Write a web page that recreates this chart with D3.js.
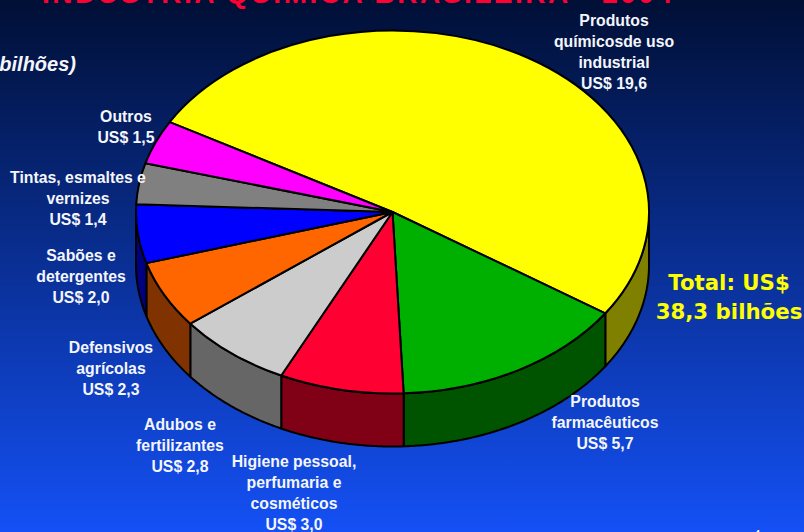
<!DOCTYPE html>
<html>
<head>
<meta charset="utf-8">
<script src="https://cdn.jsdelivr.net/npm/d3@7"></script>
<style>
html, body { margin: 0; padding: 0; background: #000f35; overflow: hidden; }
svg { display: block; }
.label { font-family: "Liberation Sans", Arial, sans-serif; font-weight: bold; font-size: 15.8px; fill: #f4f6fc; text-anchor: middle; }
</style>
</head>
<body>
<div id="chart"></div>
<script>
var categories = [
    "Produtos químicos de uso industrial", "Produtos farmacêuticos", "Higiene pessoal, perfumaria e cosméticos",
    "Adubos e fertilizantes", "Defensivos agrícolas", "Sabões e detergentes", "Tintas, esmaltes e vernizes", "Outros"
];
var values = [19.6, 5.7, 3.0, 2.8, 2.3, 2.0, 1.4, 1.5];
var topColors = ["#ffff00", "#00b000", "#ff0033", "#cccccc", "#ff6600", "#0000ff", "#808080", "#ff00ff"];
var sideColors = ["#808000", "#005400", "#800015", "#666666", "#803300", "#000080", "#404040", "#800080"];

var labelLines = [
    ["Produtos", "químicosde uso", "industrial", "US$ 19,6"],
    ["Produtos", "farmacêuticos", "US$ 5,7"],
    ["Higiene pessoal,", "perfumaria e", "cosméticos", "US$ 3,0"],
    ["Adubos e", "fertilizantes", "US$ 2,8"],
    ["Defensivos", "agrícolas", "US$ 2,3"],
    ["Sabões e", "detergentes", "US$ 2,0"],
    ["Tintas, esmaltes e", "vernizes", "US$ 1,4"],
    ["Outros", "US$ 1,5"]
];
// label anchor: centre x, first baseline
var labelPlace = [[614, 26], [605, 407], [294, 467], [180, 430], [111, 353], [81, 261], [78, 183], [126, 122]];

var width = 804, height = 532;
var cx = 392.5, cy = 212, rx = 256.5, ry = 181.5, depth = 53;
var startAngle = -60.3 * Math.PI / 180;

var svg = d3.select("#chart").append("svg")
    .attr("width", width)
    .attr("height", height);

var grad = svg.append("defs").append("linearGradient")
    .attr("id", "bg")
    .attr("x1", 0).attr("y1", 0).attr("x2", 0).attr("y2", 1);
grad.append("stop").attr("offset", "0%").attr("stop-color", "#000f35");
grad.append("stop").attr("offset", "100%").attr("stop-color", "#1450f5");

svg.append("rect")
    .attr("width", width)
    .attr("height", height)
    .attr("fill", "url(#bg)");

// title runs off the top of the slide
svg.append("text")
    .attr("x", 357)
    .attr("y", 2.5)
    .attr("text-anchor", "middle")
    .attr("font-family", "Liberation Sans, Arial, sans-serif")
    .attr("font-weight", "bold")
    .attr("font-size", 28)
    .attr("textLength", 630)
    .attr("fill", "#ff0033")
    .text("INDÚSTRIA QUÍMICA BRASILEIRA - 2004");

svg.append("text")
    .attr("x", 76)
    .attr("y", 71)
    .attr("text-anchor", "end")
    .attr("font-family", "Liberation Sans, Arial, sans-serif")
    .attr("font-weight", "bold")
    .attr("font-style", "italic")
    .attr("font-size", 20)
    .attr("fill", "#f4f6fc")
    .text("(em US$ bilhões)");

var pie = d3.pie().sort(null).startAngle(startAngle).endAngle(startAngle + 2 * Math.PI);
var slices = pie(values);

// walls: only the part of each slice facing the viewer
function wallPath(d) {
    var a0 = Math.max(d.startAngle, Math.PI / 2),
        a1 = Math.min(d.endAngle, 3 * Math.PI / 2);
    if (a1 <= a0) return null;
    var angles = d3.range(a0, a1, 0.01).concat([a1]);
    var rim = angles.map(function(a) {
        return [cx + rx * Math.sin(a), cy - ry * Math.cos(a)];
    });
    var lower = rim.map(function(p) { return [p[0], p[1] + depth]; }).reverse();
    return d3.line()(rim.concat(lower)) + "Z";
}

svg.append("g").selectAll("path")
    .data(slices)
    .enter().append("path")
    .attr("d", wallPath)
    .attr("fill", function(d, i) { return sideColors[i]; })
    .attr("stroke", "#000")
    .attr("stroke-width", 2)
    .attr("stroke-linejoin", "round");

var arc = d3.arc().innerRadius(0).outerRadius(rx);

svg.append("g")
    .attr("transform", "translate(" + cx + "," + cy + ") scale(1," + (ry / rx) + ")")
    .selectAll("path")
    .data(slices)
    .enter().append("path")
    .attr("d", arc)
    .attr("fill", function(d, i) { return topColors[i]; })
    .attr("stroke", "#000")
    .attr("stroke-width", 2)
    .attr("stroke-linejoin", "round")
    .attr("vector-effect", "non-scaling-stroke")
    .append("title")
    .text(function(d, i) { return categories[i]; });

var labels = svg.append("g").selectAll("text")
    .data(labelLines)
    .enter().append("text")
    .attr("class", "label")
    .attr("transform", function(d, i) { return "translate(" + labelPlace[i][0] + "," + labelPlace[i][1] + ")"; });

labels.selectAll("tspan")
    .data(function(d) { return d; })
    .enter().append("tspan")
    .attr("x", 0)
    .attr("y", function(d, i) { return i * 21; })
    .text(function(d) { return d; });

var totalLines = ["Total: US$", "38,3 bilhões"];
svg.append("g").selectAll("text")
    .data(totalLines)
    .enter().append("text")
    .attr("x", 729)
    .attr("y", function(d, i) { return 290 + i * 29; })
    .attr("text-anchor", "middle")
    .attr("font-family", "DejaVu Sans, Verdana, sans-serif")
    .attr("font-weight", "bold")
    .attr("font-size", 21.3)
    .attr("fill", "#ffff00")
    .text(function(d) { return d; });

// page number, nearly cut off at the bottom
svg.append("text")
    .attr("x", 757)
    .attr("y", 540)
    .attr("text-anchor", "middle")
    .attr("font-family", "Liberation Sans, Arial, sans-serif")
    .attr("font-size", 14)
    .attr("fill", "#ffffff")
    .text("4");
</script>
</body>
</html>
